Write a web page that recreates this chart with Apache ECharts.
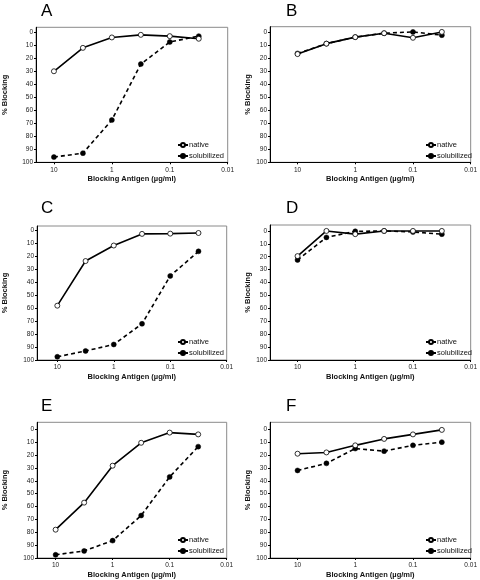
<!DOCTYPE html>
<html>
<head>
<meta charset="utf-8">
<script src="https://cdn.jsdelivr.net/npm/echarts@6/dist/echarts.min.js"></script>
<style>
html,body{margin:0;padding:0;background:#fff;}
#chart{width:480px;height:580px;}
</style>
</head>
<body>
<div id="chart"></div>
<script>
// ---- data ----
const conc = [10, 3.16, 1, 0.316, 0.1, 0.0316];
const xTicks = [10, 1, 0.1, 0.01];
const yTicks = [0, 10, 20, 30, 40, 50, 60, 70, 80, 90, 100];
const panelLabels = ['A', 'B', 'C', 'D', 'E', 'F'];
const seriesNames = ['native', 'solubilized'];

const nativeA = [30, 12, 4, 2, 3, 5];
const solubilizedA = [96, 93, 67.5, 24.5, 7.5, 3];
const nativeB = [17, 9, 4, 1, 4.5, 0];
const solubilizedB = [16.5, 9, 4, 1, 0, 2.5];
const nativeC = [58, 23.5, 11.5, 2.5, 2.3, 1.8];
const solubilizedC = [97.5, 93, 88, 72, 35, 16];
const nativeD = [19.5, 0, 2.5, 0, 0, 0];
const solubilizedD = [22.5, 5, 0.3, 0, 0.8, 2.5];
const nativeE = [78, 57, 28.3, 10.5, 2.6, 4];
const solubilizedE = [97.5, 94.5, 86.5, 67, 37, 13.5];
const nativeF = [19, 18, 12.5, 7.5, 4, 0.5];
const solubilizedF = [32, 26.5, 15, 17, 12.5, 10];

const nativeAll = [nativeA, nativeB, nativeC, nativeD, nativeE, nativeF];
const solubilizedAll = [solubilizedA, solubilizedB, solubilizedC, solubilizedD, solubilizedE, solubilizedF];

// ---- layout (positions only) ----
const layout = [
  {left: 31.7, top: 27.3, width: 196, height: 135, xMax: 20.4, yMin: -3.8, nameGapY: 27, titleLeft: 41, titleTop: 3, legendRight: 256, legendTop: 141},
  {left: 270, top: 26.7, width: 205.7, height: 135.6, xMax: 30, yMin: -4, nameGapY: 18, titleLeft: 286, titleTop: 3, legendRight: 8, legendTop: 141},
  {left: 31.7, top: 226, width: 195, height: 134, xMax: 22.9, yMin: -3.6, nameGapY: 28, titleLeft: 41, titleTop: 200, legendRight: 256, legendTop: 338},
  {left: 270, top: 225, width: 205.7, height: 135, xMax: 30, yMin: -4.6, nameGapY: 18, titleLeft: 286, titleTop: 200, legendRight: 8, legendTop: 338},
  {left: 31.7, top: 422.3, width: 195, height: 136.7, xMax: 21.2, yMin: -5.4, nameGapY: 28, titleLeft: 41, titleTop: 398, legendRight: 256, legendTop: 536},
  {left: 270, top: 422.3, width: 206, height: 136.7, xMax: 30, yMin: -5.4, nameGapY: 18, titleLeft: 286, titleTop: 398, legendRight: 8, legendTop: 536}
];

const FONT = 'Liberation Sans, Arial, sans-serif';
const chart = echarts.init(document.getElementById('chart'), null, {renderer: 'canvas'});

const grid = [], xAxis = [], yAxis = [], series = [], title = [], legend = [];
layout.forEach((L, i) => {
  grid.push({left: L.left, top: L.top, width: L.width, height: L.height, show: true,
    borderColor: '#8a8a8a', borderWidth: 1, backgroundColor: 'transparent', containLabel: false});
  xAxis.push({
    type: 'log', logBase: 10, gridIndex: i, min: 0.01, max: L.xMax, inverse: true,
    name: 'Blocking Antigen (µg/ml)', nameLocation: 'middle', nameGap: 13,
    nameTextStyle: {fontFamily: FONT, fontWeight: 'bold', fontSize: 7.5, color: '#111'},
    axisLine: {show: true, onZero: false, lineStyle: {color: '#000', width: 1}},
    axisTick: {show: true, length: 2, customValues: xTicks, lineStyle: {color: '#000'}},
    axisLabel: {show: true, customValues: xTicks, fontFamily: FONT, fontSize: 6.5, color: '#222', margin: 4,
      formatter: v => String(+v.toPrecision(3))},
    splitLine: {show: false}, minorTick: {show: false}
  });
  yAxis.push({
    type: 'value', gridIndex: i, min: L.yMin, max: 100, inverse: true,
    name: '% Blocking', nameLocation: 'middle', nameGap: L.nameGapY,
    nameTextStyle: {fontFamily: FONT, fontWeight: 'bold', fontSize: 7.5, color: '#111'},
    axisLine: {show: true, onZero: false, lineStyle: {color: '#000', width: 1}},
    axisTick: {show: true, length: 2, customValues: yTicks, lineStyle: {color: '#000'}},
    axisLabel: {show: true, customValues: yTicks, fontFamily: FONT, fontSize: 6.5, color: '#222', margin: 3},
    splitLine: {show: false}
  });
  title.push({text: panelLabels[i], left: L.titleLeft, top: L.titleTop, padding: 0,
    textStyle: {fontFamily: FONT, fontWeight: 'normal', fontSize: 17, color: '#000'}});
  legend.push({data: seriesNames, orient: 'vertical', right: L.legendRight, top: L.legendTop,
    itemWidth: 10, itemHeight: 5, itemGap: 3, padding: 0,
    textStyle: {fontFamily: FONT, fontSize: 7.5, color: '#111', padding: [0, 0, 0, -4]}});
  series.push({
    name: 'native', type: 'line', xAxisIndex: i, yAxisIndex: i,
    data: conc.map((c, k) => [c, nativeAll[i][k]]),
    symbol: 'circle', symbolSize: 5, showAllSymbol: true,
    lineStyle: {color: '#000', width: 1.6, type: 'solid'},
    itemStyle: {color: '#fff', borderColor: '#000', borderWidth: 0.8},
    emphasis: {disabled: true}, animation: false, z: 3
  });
  series.push({
    name: 'solubilized', type: 'line', xAxisIndex: i, yAxisIndex: i,
    data: conc.map((c, k) => [c, solubilizedAll[i][k]]),
    symbol: 'circle', symbolSize: 5, showAllSymbol: true,
    lineStyle: {color: '#000', width: 1.6, type: [4, 3]},
    itemStyle: {color: '#000', borderColor: '#000', borderWidth: 0.5},
    emphasis: {disabled: true}, animation: false, z: 2
  });
});

chart.setOption({
  backgroundColor: '#fff',
  animation: false,
  title, legend, grid, xAxis, yAxis, series
});
</script>
</body>
</html>
